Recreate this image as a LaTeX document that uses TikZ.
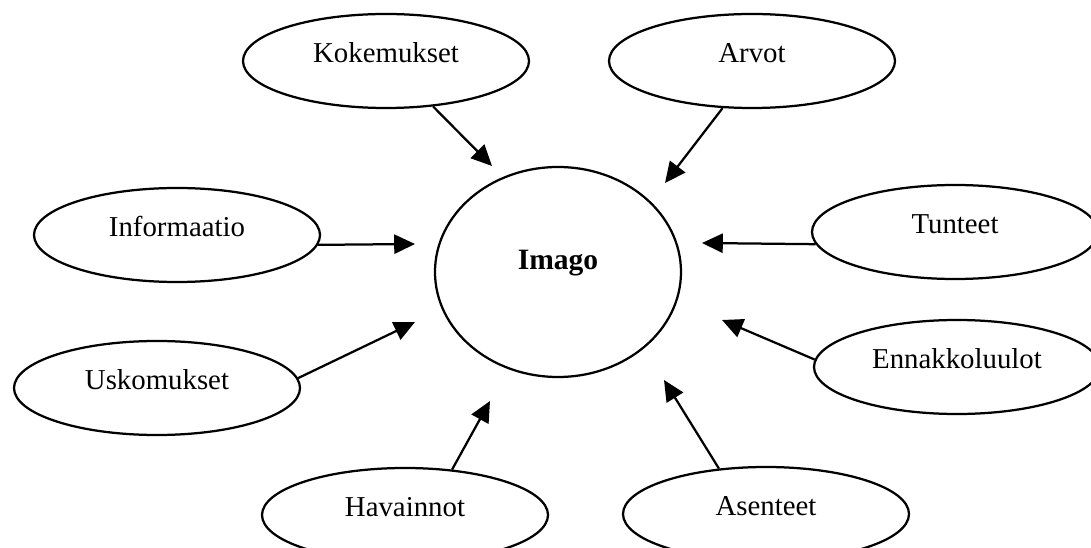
\documentclass[tikz,border=0pt]{standalone}
\usepackage{fontspec}
\setmainfont{Liberation Serif}
\usetikzlibrary{shapes.geometric,arrows.meta}

\tikzset{
  >={Triangle[length=0.52cm,width=0.48cm]},
  factor/.style={ellipse, draw, line width=1.6pt, inner sep=0pt,
    minimum width=7.15cm, minimum height=2.35cm,
    text height=0.5cm, text depth=0.42cm,
    font=\fontsize{20.5}{24}\selectfont},
  core/.style={ellipse, draw, line width=1.6pt, inner sep=0pt,
    minimum width=6.15cm, minimum height=5.25cm,
    text height=0.45cm, text depth=0.55cm,
    font=\fontsize{21}{25}\selectfont\bfseries}
}

\begin{document}
\begin{tikzpicture}
  \useasboundingbox (0,0) rectangle (27.275,13.675);

  % Central node
  \node[core] (imago) at (13.95, 6.875) {Imago};

  % Surrounding factors
  \node[factor] (kok) at (9.65, 12.15) {Kokemukset};
  \node[factor] (arv) at (18.8, 12.15) {Arvot};
  \node[factor] (inf) at (4.425, 7.8) {Informaatio};
  \node[factor] (tun) at (23.875, 7.875) {Tunteet};
  \node[factor] (usk) at (3.925, 3.975) {Uskomukset};
  \node[factor] (enn) at (23.925, 4.5) {Ennakkoluulot};
  \node[factor] (hav) at (10.125, 0.8) {Havainnot};
  \node[factor] (ase) at (19.15, 0.825) {Asenteet};

  % Arrow tips in front of the circle
  \coordinate (t1) at (12.3, 9.525);
  \coordinate (t2) at (16.625, 9.1);
  \coordinate (t3) at (10.375, 7.575);
  \coordinate (t4) at (10.375, 5.625);
  \coordinate (t5) at (17.55, 7.6);
  \coordinate (t6) at (18.05, 5.675);
  \coordinate (t7) at (12.25, 3.65);
  \coordinate (t8) at (16.6, 4.175);

  % Arrows towards Imago
  \foreach \src/\ang/\tip in {kok/-44/t1, arv/-122/t2, inf/-4/t3, usk/4/t4,
                              tun/185/t5, enn/177/t6, hav/44/t7, ase/136/t8} {
    \draw[->, line width=1.6pt] (\src.\ang) -- (\tip);
  }
\end{tikzpicture}
\end{document}
